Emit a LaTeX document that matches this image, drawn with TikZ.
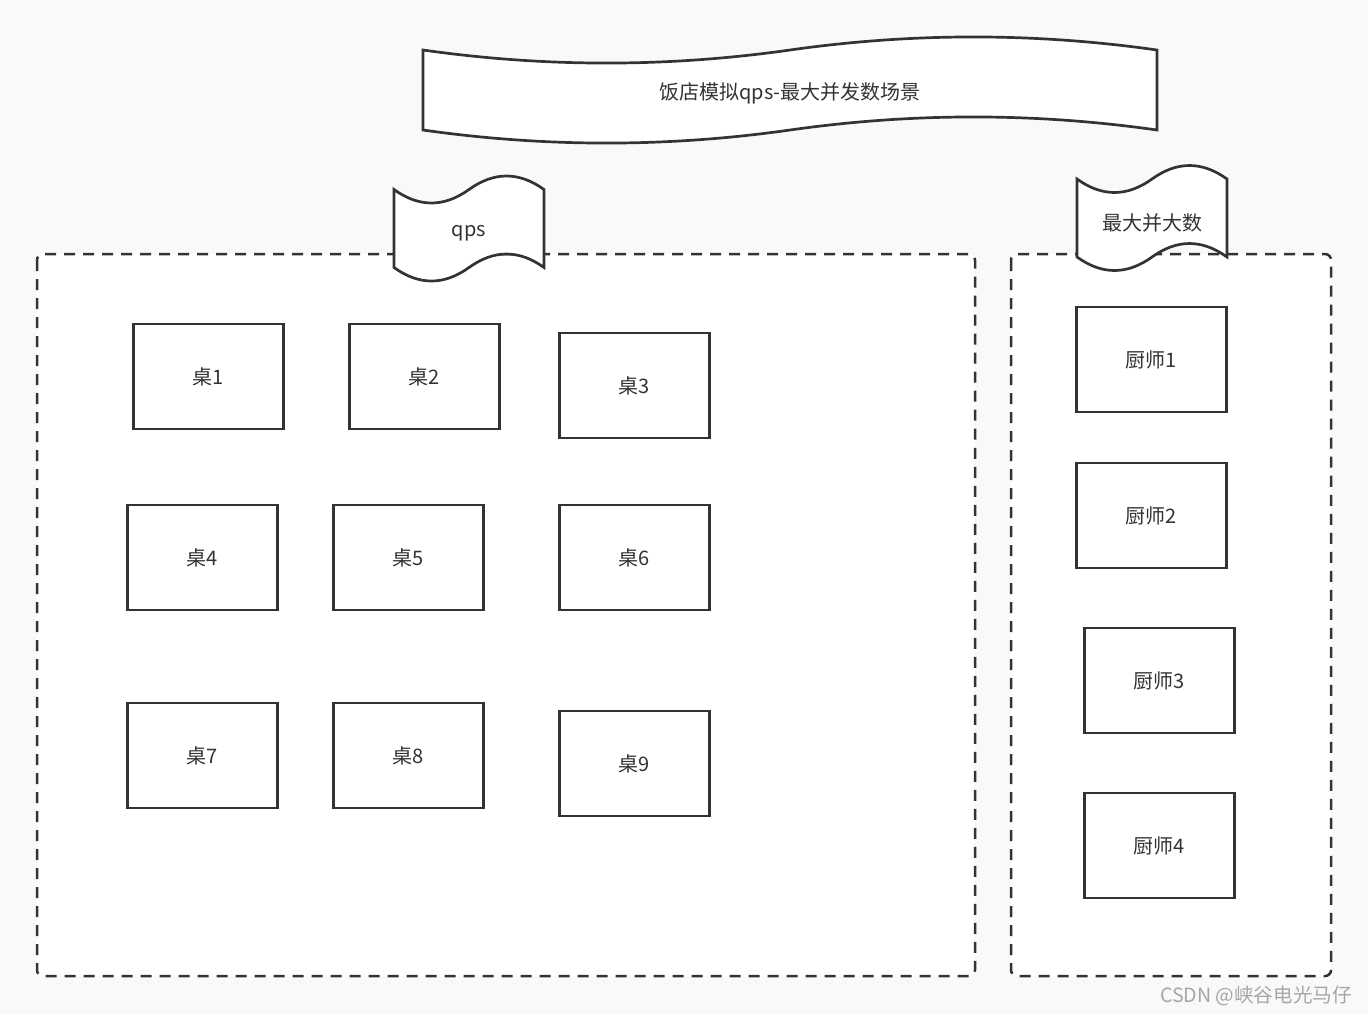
\documentclass[tikz,border=0pt]{standalone}
\usepackage{fontspec}
\setmainfont{Noto Sans CJK SC}
\definecolor{ink}{HTML}{333333}
\definecolor{bgcol}{HTML}{F9F9F9}
\tikzset{
  tbl/.style={draw=ink, line width=1.35pt, fill=white, minimum width=75pt,
    minimum height=52.5pt, text=ink, font=\fontsize{10}{11}\selectfont},
  zone/.style={draw=ink, line width=1.25pt, fill=white, rounded corners=3pt,
    dash pattern=on 5.5pt off 4pt},
  tapeline/.style={draw=ink, line width=1.35pt, fill=white},
  lbl/.style={text=ink, font=\fontsize{10}{11}\selectfont}
}
% x, y, w, h, wave
\newcommand{\tapeshape}[5]{%
  \begin{scope}[shift={(#1,#2)}]
    \draw[tapeline] (0,{#5/2}) .. controls ({#3/6},{1.1*#5}) and ({#3/3},{1.1*#5}) .. ({#3/2},{#5/2})
      .. controls ({2*#3/3},{-0.1*#5}) and ({5*#3/6},{-0.1*#5}) .. (#3,{#5/2})
      -- (#3,{#4-#5/2})
      .. controls ({5*#3/6},{#4-1.1*#5}) and ({2*#3/3},{#4-1.1*#5}) .. ({#3/2},{#4-#5/2})
      .. controls ({#3/3},{#4+0.1*#5}) and ({#3/6},{#4+0.1*#5}) .. (0,{#4-#5/2}) -- cycle;
  \end{scope}}
\begin{document}
\begin{tikzpicture}[x=0.5pt,y=-0.5pt]
\fill[bgcol] (0,0) rectangle (1368,1014);
\useasboundingbox (0,0) rectangle (1368,1014);
\draw[zone] (37,254) rectangle (975,976);
\draw[zone] (1011,254) rectangle (1331,976);
\tapeshape{423}{35.5}{734}{109}{29}
\node[lbl] (title) at (790,93) {饭店模拟qps-最大并发数场景};
\tapeshape{394}{174.5}{150}{108}{30}
\node[lbl] (qps) at (469,233) {qps};
\tapeshape{1077}{164}{150}{108}{30}
\node[lbl] (maxc) at (1152,223) {最大并大数};
\node[tbl] (t1) at (208.5,376.5) {桌1};
\node[tbl] (t2) at (424.5,376.5) {桌2};
\node[tbl] (t3) at (634.5,385.5) {桌3};
\node[tbl] (t4) at (202.5,557.5) {桌4};
\node[tbl] (t5) at (408.5,557.5) {桌5};
\node[tbl] (t6) at (634.5,557.5) {桌6};
\node[tbl] (t7) at (202.5,755.5) {桌7};
\node[tbl] (t8) at (408.5,755.5) {桌8};
\node[tbl] (t9) at (634.5,763.5) {桌9};
\node[tbl] (c1) at (1151.5,359.5) {厨师1};
\node[tbl] (c2) at (1151.5,515.5) {厨师2};
\node[tbl] (c3) at (1159.5,680.5) {厨师3};
\node[tbl] (c4) at (1159.5,845.5) {厨师4};
\node[text=gray!70, font=\fontsize{9.8}{11}\selectfont] (mark) at (1256,996) {CSDN @峡谷电光马仔};
\end{tikzpicture}
\end{document}
